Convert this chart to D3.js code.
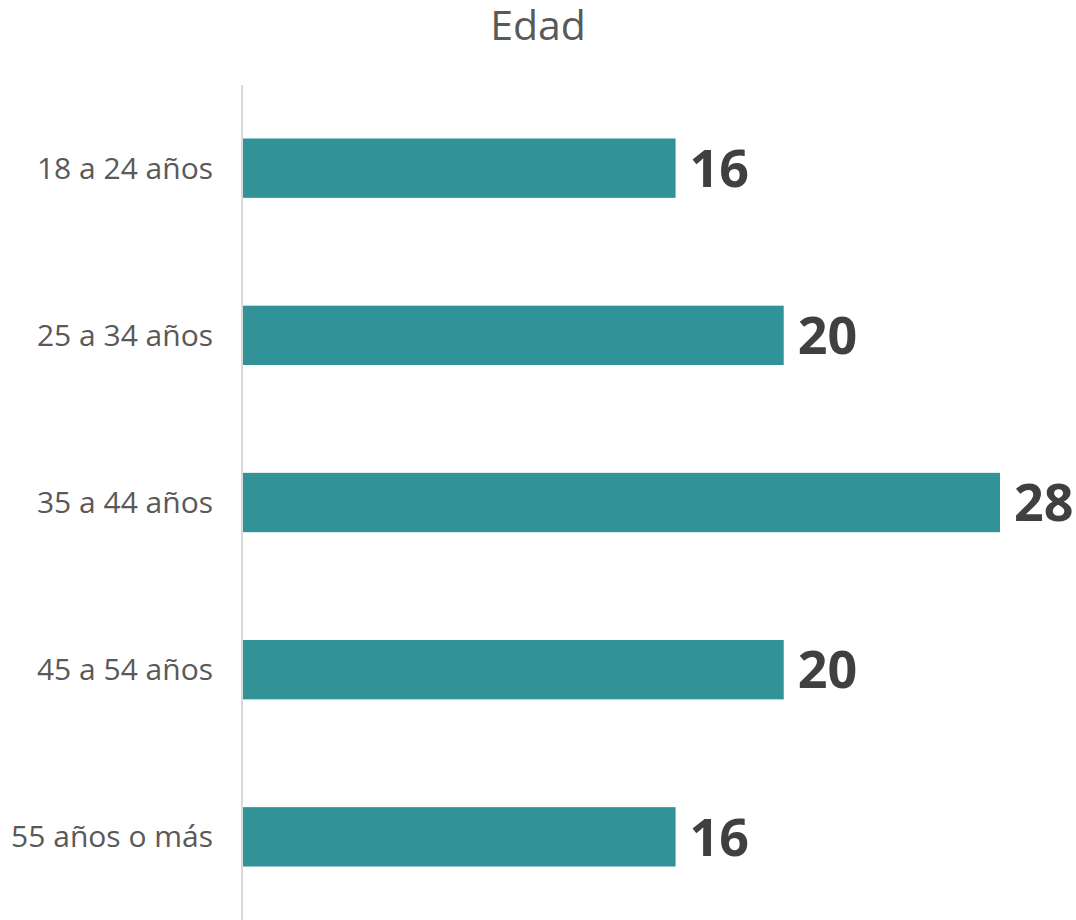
<!DOCTYPE html>
<html>
<head>
<meta charset="utf-8">
<script src="https://cdn.jsdelivr.net/npm/d3@7"></script>
<style>
  body { margin: 0; background: #fff; }
  svg { display: block; font-family: "Open Sans", "Noto Sans", sans-serif; }
</style>
</head>
<body>
<svg width="1076" height="920"></svg>
<script>
var categories = ["18 a 24 años", "25 a 34 años", "35 a 44 años", "45 a 54 años", "55 años o más"];
var values = [16, 20, 28, 20, 16];
var title = "Edad";

var svg = d3.select("svg");
var left = 243;

var x = d3.scaleLinear().domain([0, 28]).range([left, 1000]);
var y = d3.scaleBand().domain(categories).range([85, 920]).paddingInner(0.645).paddingOuter(0.32);

svg.append("text")
  .attr("x", 538).attr("y", 40)
  .attr("text-anchor", "middle")
  .attr("font-size", 41)
  .attr("fill", "#595959")
  .text(title);

svg.selectAll("rect.bar").data(values).enter().append("rect")
  .attr("class", "bar")
  .attr("x", x(0))
  .attr("y", function(d, i){return y(categories[i]);})
  .attr("width", function(d){return x(d) - x(0);})
  .attr("height", y.bandwidth())
  .attr("fill", "#319297");

svg.append("line")
  .attr("x1", 242).attr("x2", 242)
  .attr("y1", 85).attr("y2", 920)
  .attr("stroke", "#d9d9d9").attr("stroke-width", 2);

svg.selectAll("text.cat").data(categories).enter().append("text")
  .attr("class", "cat")
  .attr("x", 213)
  .attr("y", function(d){return y(d) + y.bandwidth()/2;})
  .attr("dy", "0.35em")
  .attr("text-anchor", "end")
  .attr("font-size", 30)
  .attr("fill", "#595959")
  .text(function(d){return d;});

svg.selectAll("text.val").data(values).enter().append("text")
  .attr("class", "val")
  .attr("x", function(d){return x(d) + 14;})
  .attr("y", function(d, i){return y(categories[i]) + y.bandwidth()/2;})
  .attr("dy", "0.36em")
  .attr("font-size", 52)
  .attr("font-weight", "bold")
  .attr("fill", "#404040")
  .text(function(d){return d;});
</script>
</body>
</html>
